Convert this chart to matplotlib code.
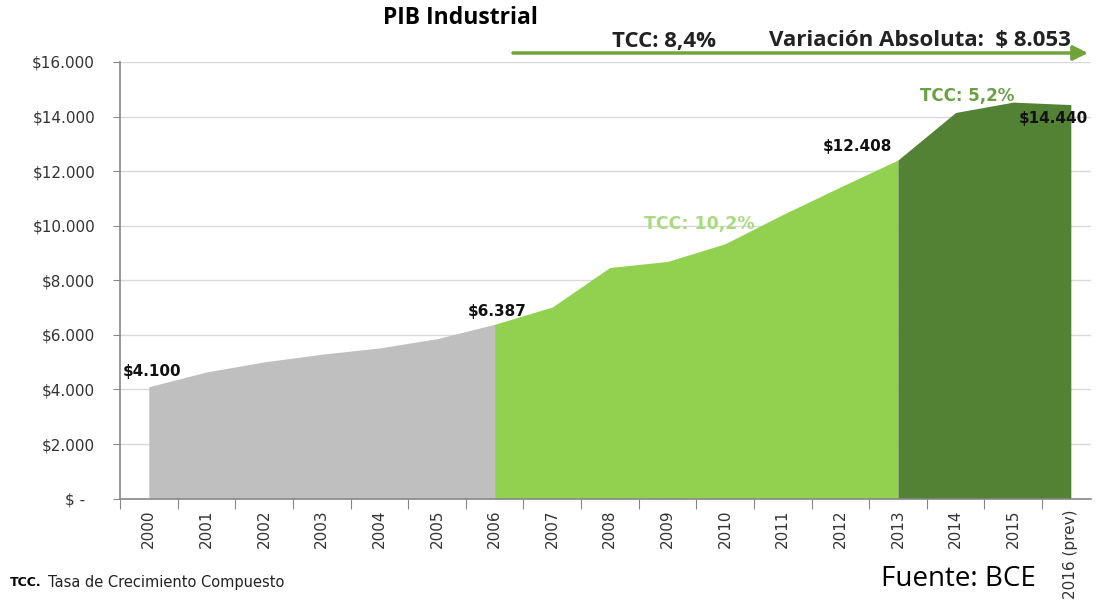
import matplotlib
matplotlib.use('Agg')
import matplotlib.pyplot as plt
import numpy as np

# datos PIB industrial (millones USD)
years = ['2000', '2001', '2002', '2003', '2004', '2005', '2006', '2007', '2008',
         '2009', '2010', '2011', '2012', '2013', '2014', '2015', '2016 (prev)']
values = [4100, 4640, 5010, 5290, 5520, 5860, 6387, 7020, 8470,
          8690, 9340, 10410, 11420, 12408, 14150, 14530, 14440]
# tramos: (inicio, fin, color)
segments = [(0, 6, '#BFBFBF'), (6, 13, '#92D050'), (13, 16, '#548235')]
yticks = [0, 2000, 4000, 6000, 8000, 10000, 12000, 14000, 16000]
ylabels = ['$ -  ', '$2.000', '$4.000', '$6.000', '$8.000', '$10.000',
           '$12.000', '$14.000', '$16.000']

fig = plt.figure(figsize=(10.96, 6.01), dpi=100)
ax = fig.add_axes([120 / 1096, (601 - 498.6) / 601, (1091 - 120) / 1096, (498.6 - 62) / 601])

x = np.arange(len(years))
for a, b, c in segments:
    ax.fill_between(x[a:b + 1], 0, values[a:b + 1], color=c, lw=0, zorder=2)

ax.set_xlim(-0.5, 16.35)
ax.set_ylim(0, 16000)

ax.set_yticks(yticks)
ax.set_yticklabels(ylabels, fontsize=11, color='#333333')
ax.yaxis.grid(True, color='#D9D9D9', lw=1)
ax.set_axisbelow(True)

ax.set_xticks(np.arange(-0.5, 16, 1))
ax.set_xticklabels([])
ax.set_xticks(x, minor=True)
ax.set_xticklabels(years, minor=True, rotation=90, fontsize=11, color='#333333')
ax.tick_params(axis='x', which='major', length=7, color='#888888')
ax.tick_params(axis='x', which='minor', length=0, pad=8)
ax.tick_params(axis='y', length=5, color='#888888', pad=13)

for s in ['top', 'right']:
    ax.spines[s].set_visible(False)
for s in ['left', 'bottom']:
    ax.spines[s].set_color('#888888')
    ax.spines[s].set_linewidth(1.2)

# etiquetas de valores
lbl = dict(fontsize=11, fontweight='bold', color='#111111', zorder=5)
ax.text(0.05, values[0] + 300, '$4.100', ha='center', va='bottom', **lbl)
ax.text(6.05, values[6] + 200, '$6.387', ha='center', va='bottom', **lbl)
ax.text(12.3, values[13] + 220, '$12.408', ha='center', va='bottom', **lbl)
ax.text(15.7, values[16] - 250, '$14.440', ha='center', va='top', **lbl)
ax.text(9.55, 10080, 'TCC: 10,2%', ha='center', va='center', fontsize=12.5,
        fontweight='bold', color='#A9DA80', zorder=5)
ax.text(14.2, 14760, 'TCC: 5,2%', ha='center', va='center', fontsize=12,
        fontweight='bold', color='#6A9F45', zorder=5)

# titulo y flecha
fig.text(460 / 1096, 1 - 18 / 601, 'PIB Industrial', ha='center', va='center',
         fontsize=16.5, fontweight='bold', family='Open Sans')
fig.text(664 / 1096, 1 - 41 / 601, 'TCC: 8,4%', ha='center', va='center',
         fontsize=16, fontweight='bold', family='Open Sans', color='#222222')
fig.text(920 / 1096, 1 - 41 / 601, 'Variación Absoluta:  $ 8.053', ha='center',
         va='center', fontsize=16, fontweight='bold', family='Open Sans', color='#222222')
ax.annotate('', xy=(1088 / 1096, 1 - 53 / 601), xytext=(513 / 1096, 1 - 53 / 601),
            xycoords='figure fraction', textcoords='figure fraction',
            arrowprops=dict(arrowstyle='-|>', color='#70A33A', lw=2.5,
                            mutation_scale=22, shrinkA=0, shrinkB=0))

# notas al pie
fig.text(10 / 1096, 1 - 583 / 601, 'TCC.', fontsize=9, fontweight='bold',
         va='center')
fig.text(48 / 1096, 1 - 583 / 601, 'Tasa de Crecimiento Compuesto', fontsize=10.5,
         va='center', color='#222222')
fig.text(958 / 1096, 1 - 579 / 601, 'Fuente: BCE', fontsize=20, ha='center',
         va='center', family='Open Sans')

fig.savefig('out.png', dpi=100)
